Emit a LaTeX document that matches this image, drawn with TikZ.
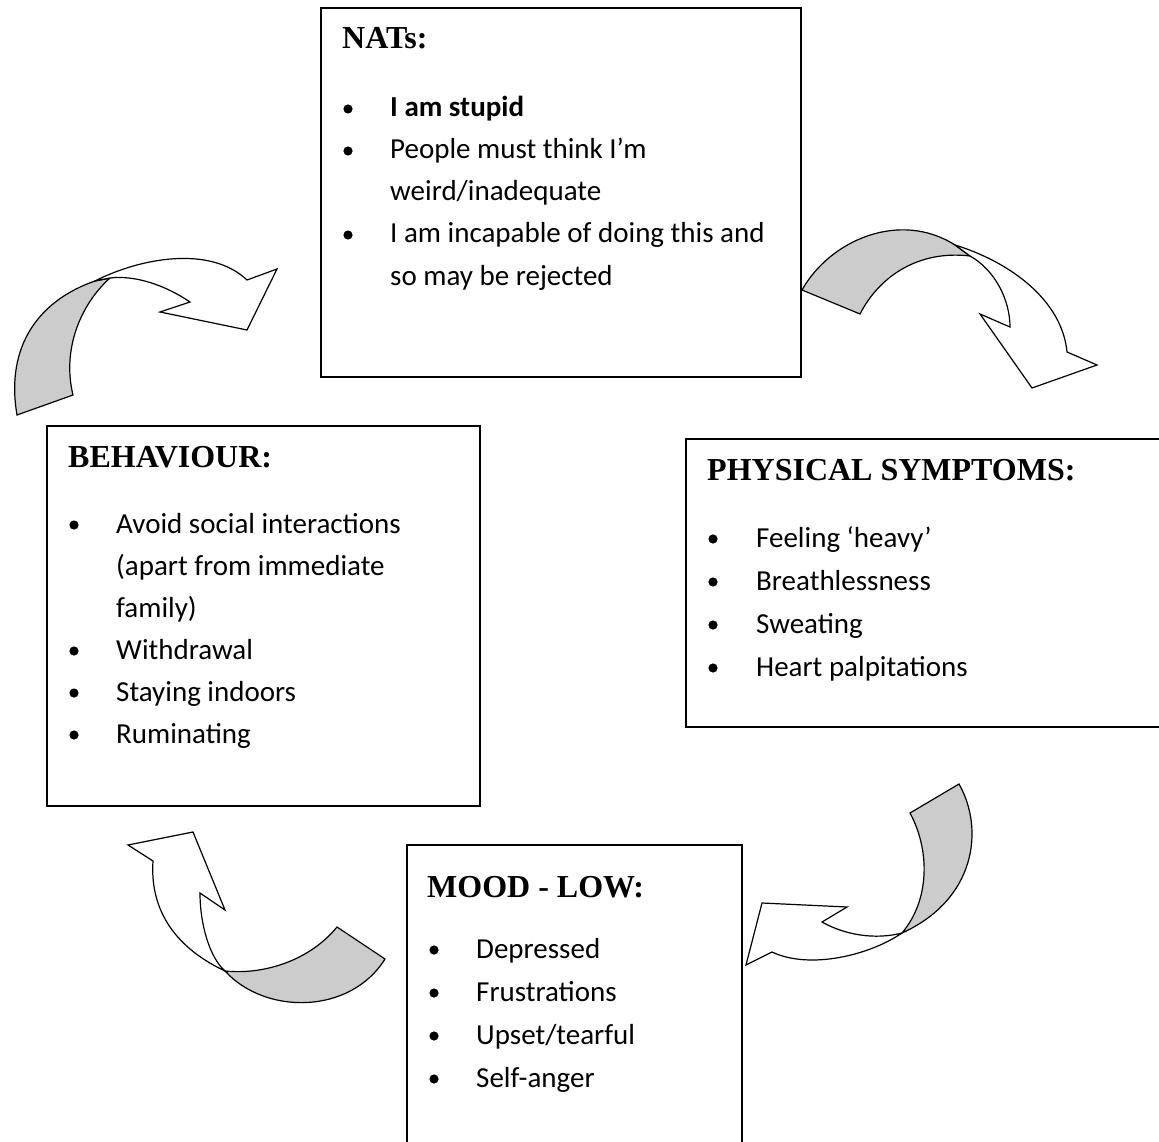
\documentclass[tikz,border=0pt]{standalone}
\usepackage{fontspec}
\setmainfont{Carlito}
\newfontfamily\titlefont{Liberation Serif}
\begin{document}
\begin{tikzpicture}[x=1pt,y=-1pt,
  box/.style={draw=black,line width=1.6pt},
  ttl/.style={anchor=base west,inner sep=0pt,font=\titlefont\fontsize{32}{36}\selectfont\bfseries},
  body/.style={anchor=base west,inner sep=0pt,font=\fontsize{29}{35}\selectfont},
  ribbon/.style={draw=black,line width=1.2pt,line join=miter},
  back/.style={ribbon,fill=black!20},
  front/.style={ribbon,fill=white}]
\useasboundingbox (0,0) rectangle (1159,1142);
\clip (0,0) rectangle (1159,1142);
% boxes
\draw[box] (321,8) rectangle (801,377);
\draw[box] (47,426) rectangle (480,806);
\draw[box] (686,439) rectangle (1175,727);
\draw[box] (407,845) rectangle (742,1160);
\coordinate (natsbox) at (561,192);
% NATs
\node[ttl] (nt) at (342,49) {NATs:};
\fill (348,109) circle (4.6);
\fill (348,151) circle (4.6);
\fill (348,235) circle (4.6);
\node[body,font=\fontsize{29}{35}\selectfont\bfseries] (n1) at (390,117) {I am stupid};
\node[body] (n2) at (390,159) {People must think I’m};
\node[body] (n3) at (390,201) {weird/inadequate};
\node[body] (n4) at (390,243) {I am incapable of doing this and};
\node[body] (n5) at (390,285) {so may be rejected};
% BEHAVIOUR
\node[ttl] (bt) at (68,467) {BEHAVIOUR:};
\fill (74,525) circle (4.6);
\fill (74,651) circle (4.6);
\fill (74,693) circle (4.6);
\fill (74,735) circle (4.6);
\node[body] (b1) at (116,533) {Avoid social interactions};
\node[body] (b2) at (116,575) {(apart from immediate};
\node[body] (b3) at (116,617) {family)};
\node[body] (b4) at (116,659) {Withdrawal};
\node[body] (b5) at (116,701) {Staying indoors};
\node[body] (b6) at (116,743) {Ruminating};
% PHYSICAL
\node[ttl] (pt) at (707,480) {PHYSICAL SYMPTOMS:};
\fill (713,539) circle (4.6);
\fill (713,582) circle (4.6);
\fill (713,625) circle (4.6);
\fill (713,668) circle (4.6);
\node[body] (p1) at (756,547) {Feeling ‘heavy’};
\node[body] (p2) at (756,590) {Breathlessness};
\node[body] (p3) at (756,633) {Sweating};
\node[body] (p4) at (756,676) {Heart palpitations};
% MOOD
\node[ttl] (mt) at (427,897) {MOOD - LOW:};
\fill (434,950) circle (4.6);
\fill (434,993) circle (4.6);
\fill (434,1036) circle (4.6);
\fill (434,1079) circle (4.6);
\node[body] (m1) at (476,958) {Depressed};
\node[body] (m2) at (476,1001) {Frustrations};
\node[body] (m3) at (476,1044) {Upset/tearful};
\node[body] (m4) at (476,1087) {Self-anger};
% Arrow 1 (top-left)
\draw[back] (17,415) .. controls (5,345) and (40,300) .. (95,281) -- (110,278)
  .. controls (80,305) and (62,350) .. (73,395) -- cycle;
\draw[front] (95,281) .. controls (140,258) and (210,245) .. (247,280)
  -- (277,269) -- (247,330) -- (160,312) -- (190,302)
  .. controls (165,285) and (135,275) .. (110,278) -- cycle;
% Arrow 2 (top-right)
\draw[back] (802,290) .. controls (830,240) and (900,210) .. (955,245) -- (970,256)
  .. controls (920,250) and (880,275) .. (860,314) -- cycle;
\draw[front] (955,245) .. controls (1010,262) and (1062,300) .. (1067,352)
  -- (1097,365) -- (1032,388) -- (980,314) -- (1010,327)
  .. controls (1010,300) and (995,270) .. (970,256) -- cycle;
% Arrow 3 (bottom-right)
\draw[back] (959,784) .. controls (985,830) and (975,900) .. (902,933)
  .. controls (930,900) and (930,850) .. (910,813) -- cycle;
\draw[front] (902,933) .. controls (870,955) and (810,970) .. (772,952)
  -- (746,965) -- (762,903) -- (847,907) -- (822,922)
  .. controls (845,935) and (875,940) .. (902,933) -- cycle;
% Arrow 4 (bottom-left)
\draw[back] (385,959) .. controls (350,1015) and (265,1015) .. (225,971)
  .. controls (265,975) and (310,960) .. (337,927) -- cycle;
\draw[front] (225,971) .. controls (170,945) and (150,905) .. (153,861)
  -- (128,845) -- (193,832) -- (225,910) -- (200,893)
  .. controls (200,925) and (210,958) .. (225,971) -- cycle;
\end{tikzpicture}
\end{document}
